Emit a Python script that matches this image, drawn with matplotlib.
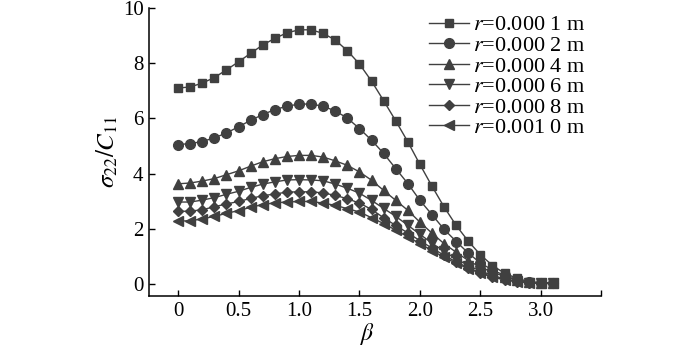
import numpy as np
import matplotlib
matplotlib.use("Agg")
import matplotlib.pyplot as plt

plt.rcParams['font.family'] = ['Liberation Serif', 'DejaVu Serif']
plt.rcParams['mathtext.fontset'] = 'stix'

# beta values (0 to 3.1, step 0.1)
beta = [0.0, 0.1, 0.2, 0.3, 0.4, 0.5, 0.6, 0.7, 0.8, 0.9,
        1.0, 1.1, 1.2, 1.3, 1.4, 1.5, 1.6, 1.7, 1.8, 1.9,
        2.0, 2.1, 2.2, 2.3, 2.4, 2.5, 2.6, 2.7, 2.8, 2.9,
        3.0, 3.1]

s_r1 = [7.10, 7.14, 7.28, 7.48, 7.76, 8.05, 8.36, 8.66, 8.90, 9.10,
        9.21, 9.21, 9.08, 8.84, 8.45, 7.97, 7.35, 6.64, 5.91, 5.15,
        4.33, 3.54, 2.79, 2.12, 1.55, 1.06, 0.67, 0.39, 0.21, 0.09,
        0.04, 0.03]
s_r2 = [5.05, 5.09, 5.16, 5.30, 5.47, 5.70, 5.93, 6.14, 6.32, 6.44,
        6.52, 6.52, 6.44, 6.27, 6.01, 5.63, 5.21, 4.73, 4.18, 3.64,
        3.03, 2.51, 1.98, 1.54, 1.12, 0.76, 0.51, 0.31, 0.15, 0.07,
        0.04, 0.03]
s_r4 = [3.63, 3.66, 3.73, 3.82, 3.96, 4.10, 4.27, 4.43, 4.54, 4.62,
        4.66, 4.66, 4.60, 4.46, 4.30, 4.06, 3.76, 3.39, 3.03, 2.67,
        2.24, 1.84, 1.46, 1.15, 0.85, 0.61, 0.43, 0.27, 0.14, 0.07,
        0.04, 0.03]
s_r6 = [2.97, 2.97, 3.04, 3.13, 3.25, 3.36, 3.50, 3.62, 3.70, 3.77,
        3.78, 3.77, 3.74, 3.62, 3.47, 3.29, 3.03, 2.74, 2.45, 2.13,
        1.80, 1.48, 1.18, 0.91, 0.67, 0.47, 0.31, 0.19, 0.10, 0.05,
        0.03, 0.02]
s_r8 = [2.63, 2.64, 2.69, 2.80, 2.90, 2.99, 3.10, 3.20, 3.26, 3.33,
        3.34, 3.34, 3.30, 3.21, 3.09, 2.93, 2.70, 2.40, 2.12, 1.85,
        1.57, 1.30, 1.04, 0.80, 0.59, 0.41, 0.27, 0.16, 0.09, 0.04,
        0.02, 0.02]
s_r10 = [2.28, 2.29, 2.36, 2.45, 2.56, 2.66, 2.78, 2.88, 2.94, 2.97,
         2.99, 2.99, 2.93, 2.85, 2.73, 2.61, 2.40, 2.19, 1.95, 1.71,
         1.46, 1.21, 0.97, 0.75, 0.56, 0.39, 0.25, 0.15, 0.08, 0.04,
         0.02, 0.02]

labels = ["$r$=0.000 1 m", "$r$=0.000 2 m", "$r$=0.000 4 m",
          "$r$=0.000 6 m", "$r$=0.000 8 m", "$r$=0.001 0 m"]

c = '#404040'
fig = plt.figure(figsize=(7.0, 3.48), dpi=100)
ax = fig.add_axes([0.213, 0.149, 0.646, 0.828])

ax.plot(beta, s_r1, '-s', color=c, ms=6, lw=1.0, label=labels[0])
ax.plot(beta, s_r2, '-o', color=c, ms=7, lw=1.0, label=labels[1])
ax.plot(beta, s_r4, '-^', color=c, ms=7, lw=1.0, label=labels[2])
ax.plot(beta, s_r6, '-v', color=c, ms=7, lw=1.0, label=labels[3])
ax.plot(beta, s_r8, '-D', color=c, ms=5.5, lw=1.0, label=labels[4])
ax.plot(beta, s_r10, '-<', color=c, ms=7, lw=1.0, label=labels[5])

ax.set_xlim(-0.24, 3.5)
ax.set_ylim(-0.44, 10)
ax.set_xticks([0, 0.5, 1.0, 1.5, 2.0, 2.5, 3.0, 3.5])
ax.set_xticklabels(['0', '0.5', '1.0', '1.5', '2.0', '2.5', '3.0', ''])
ax.set_yticks([0, 2, 4, 6, 8, 10])
ax.tick_params(direction='in', length=4, width=1, labelsize=15, pad=4)
ax.spines['top'].set_visible(False)
ax.spines['right'].set_visible(False)
for s in ['left', 'bottom']:
    ax.spines[s].set_linewidth(1.1)

ax.set_xlabel(r'$\beta$', fontsize=17)
ax.xaxis.set_label_coords(0.482, -0.085)
ax.set_ylabel(r'$\sigma_{22}/C_{11}$', fontsize=18, labelpad=2)

ax.legend(loc='upper right', bbox_to_anchor=(1.0, 1.03), frameon=False,
          fontsize=16, handlelength=1.8, handletextpad=0.2,
          labelspacing=0.0, borderpad=0.2)

fig.savefig('out.png', dpi=100)
